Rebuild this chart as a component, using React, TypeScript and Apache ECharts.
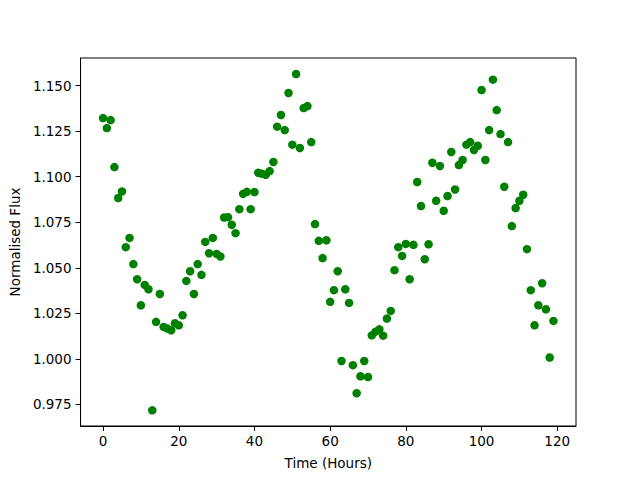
import React, { useEffect, useRef } from "react";
import * as echarts from "echarts";

// Normalised flux, one sample per hour (hours 0..119)
const flux: number[] = [
  1.1322, 1.1267, 1.1311, 1.1053, 1.0883, 1.0919, 1.0613, 1.0664, 1.052, 1.0437,
  1.0294, 1.0406, 1.0382, 0.9717, 1.0203, 1.0356, 1.0175, 1.0166, 1.0157, 1.0195,
  1.0184, 1.0239, 1.0428, 1.0481, 1.0356, 1.052, 1.0461, 1.0642, 1.058, 1.0664,
  1.0576, 1.0562, 1.0776, 1.0778, 1.0736, 1.069, 1.0822, 1.0906, 1.0917, 1.0822,
  1.0916, 1.1022, 1.1016, 1.1011, 1.1031, 1.1081, 1.1275, 1.1339, 1.1256, 1.146,
  1.1176, 1.1564, 1.1158, 1.1377, 1.1388, 1.119, 1.074, 1.0648, 1.0553, 1.0651,
  1.0313, 1.0377, 1.0481, 0.9988, 1.0382, 1.0307, 0.9965, 0.9811, 0.9904, 0.9988,
  0.99, 1.0129, 1.0149, 1.0162, 1.0127, 1.0221, 1.0263, 1.0487, 1.0613, 1.0565,
  1.0631, 1.0437, 1.0626, 1.0971, 1.0839, 1.0547, 1.0629, 1.1077, 1.0868, 1.1059,
  1.0813, 1.0894, 1.1136, 1.093, 1.1064, 1.1092, 1.1176, 1.119, 1.1147, 1.117,
  1.1476, 1.1092, 1.1256, 1.1533, 1.1366, 1.1234, 1.0945, 1.119, 1.0729, 1.0828,
  1.0868, 1.0901, 1.0602, 1.0377, 1.0184, 1.0294, 1.0415, 1.0272, 1.0007, 1.0208,
];
const hours: number[] = flux.map((_, i) => i);

const xTicks: number[] = [0, 20, 40, 60, 80, 100, 120];
const yTicks: number[] = [0.975, 1.0, 1.025, 1.05, 1.075, 1.1, 1.125, 1.15];

const FONT = "DejaVu Sans";

export default function App() {
  const ref = useRef<HTMLDivElement>(null);
  useEffect(() => {
    if (!ref.current) return;
    const chart = echarts.init(ref.current, null, { renderer: "svg" });
    const axisCommon = {
      axisLine: { show: true, onZero: false, lineStyle: { color: "#000", width: 1 } },
      splitLine: { show: false },
    };
    chart.setOption({
      animation: false,
      backgroundColor: "#fff",
      grid: {
        left: 80,
        right: 64,
        top: 58,
        bottom: 54,
        show: true,
        borderColor: "#000",
        borderWidth: 1,
        backgroundColor: "transparent",
      },
      xAxis: {
        type: "value",
        min: -5.95,
        max: 124.95,
        name: "Time (Hours)",
        nameLocation: "middle",
        nameGap: 30,
        nameTextStyle: { color: "#000", fontFamily: FONT, fontSize: 13.5 },
        ...axisCommon,
        axisTick: {
          show: true,
          inside: false,
          length: 5,
          customValues: xTicks,
          lineStyle: { color: "#000" },
        },
        axisLabel: {
          show: true,
          margin: 8,
          customValues: xTicks,
          color: "#000",
          fontFamily: FONT,
          fontSize: 13.5,
          formatter: (v: number) => String(v),
        },
      },
      yAxis: {
        type: "value",
        min: 0.9631,
        max: 1.1652,
        name: "Normalised Flux",
        nameLocation: "middle",
        nameGap: 57,
        nameTextStyle: { color: "#000", fontFamily: FONT, fontSize: 13.5 },
        ...axisCommon,
        axisTick: {
          show: true,
          inside: false,
          length: 5,
          customValues: yTicks,
          lineStyle: { color: "#000" },
        },
        axisLabel: {
          show: true,
          margin: 9,
          customValues: yTicks,
          color: "#000",
          fontFamily: FONT,
          fontSize: 13.5,
          formatter: (v: number) => v.toFixed(3),
        },
      },
      series: [
        {
          type: "scatter",
          data: hours.map((h, i) => [h, flux[i]]),
          symbol: "circle",
          symbolSize: 8.5,
          itemStyle: { color: "#008000", opacity: 1 },
          emphasis: { disabled: true },
        },
      ],
    });
    return () => chart.dispose();
  }, []);
  return <div ref={ref} style={{ width: 640, height: 480, position: "absolute", left: 0, top: 0 }} />;
}
